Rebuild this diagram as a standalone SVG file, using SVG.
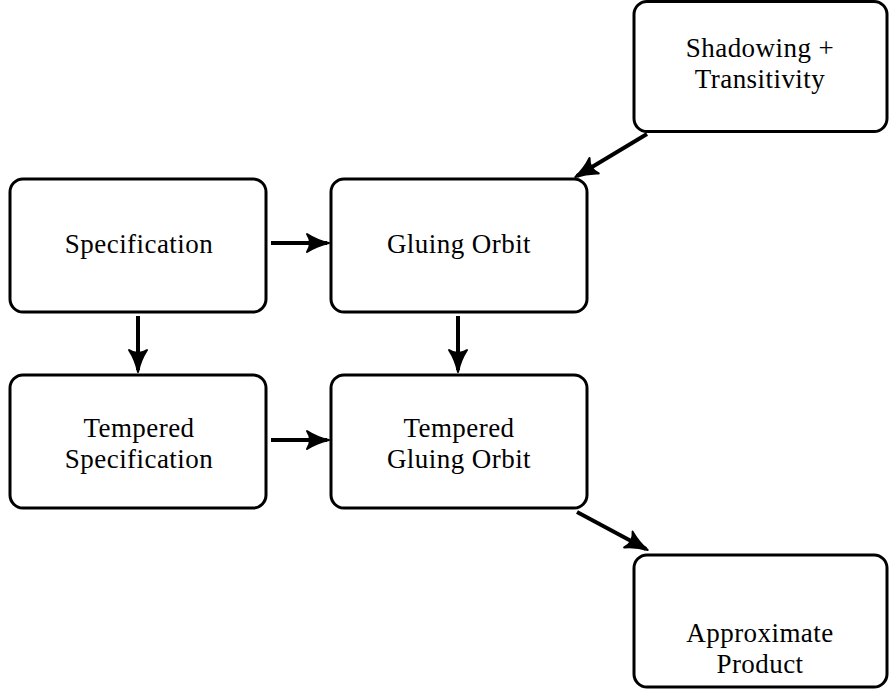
<svg xmlns="http://www.w3.org/2000/svg" width="889" height="694" viewBox="0 0 889 694">
<style>
.box{fill:#fff;stroke:#000;stroke-width:3}
.lbl{font-family:"Liberation Serif","DejaVu Serif",serif;font-size:27px;letter-spacing:0.45px;fill:#000;text-anchor:middle}
.con{stroke:#000;stroke-width:4;fill:none;marker-end:url(#ah)}
</style>
<defs>
<marker id="ah" viewBox="-3 -12 28 24" refX="20" refY="0" markerWidth="28" markerHeight="24" markerUnits="userSpaceOnUse" orient="auto">
<path d="M0,-9 Q10,-2.5 22,0 Q10,2.5 0,9 Q6,0 0,-9 Z" fill="#000" stroke="#000" stroke-width="2" stroke-linejoin="round"/>
</marker>
</defs>
<g id="connectors">
<line class="con" x1="647" y1="134" x2="577" y2="176"/>
<line class="con" x1="271" y1="243" x2="327" y2="243"/>
<line class="con" x1="138" y1="316" x2="138" y2="370"/>
<line class="con" x1="458" y1="316" x2="458" y2="370"/>
<line class="con" x1="271" y1="440" x2="327" y2="440"/>
<line class="con" x1="577" y1="512" x2="646" y2="549"/>
</g>
<g id="shadowing">
<rect class="box" x="634" y="1.5" width="253" height="130" rx="13"/>
<text class="lbl" x="760" y="57">Shadowing +</text>
<text class="lbl" x="760" y="88">Transitivity</text>
</g>
<g id="specification">
<rect class="box" x="10" y="179" width="256" height="133" rx="13"/>
<text class="lbl" x="139" y="253">Specification</text>
</g>
<g id="gluing">
<rect class="box" x="331" y="179" width="256" height="133" rx="13"/>
<text class="lbl" x="459" y="253">Gluing Orbit</text>
</g>
<g id="tempered-spec">
<rect class="box" x="10" y="375" width="256" height="133" rx="13"/>
<text class="lbl" x="139" y="437">Tempered</text>
<text class="lbl" x="139" y="468">Specification</text>
</g>
<g id="tempered-gluing">
<rect class="box" x="331" y="375" width="256" height="133" rx="13"/>
<text class="lbl" x="459" y="437">Tempered</text>
<text class="lbl" x="459" y="468">Gluing Orbit</text>
</g>
<g id="approx">
<rect class="box" x="634" y="555" width="253" height="132" rx="13"/>
<text class="lbl" x="760" y="642">Approximate</text>
<text class="lbl" x="760" y="673">Product</text>
</g>
</svg>
